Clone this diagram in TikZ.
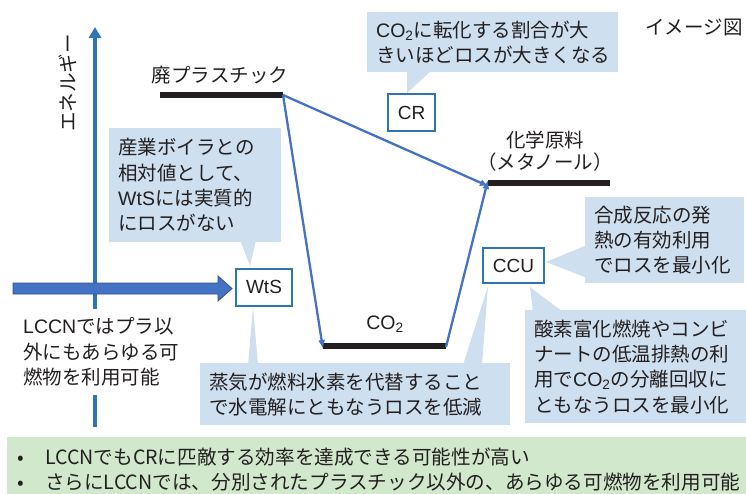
\documentclass[tikz,border=0pt]{standalone}
\usepackage{fontspec}
\setmainfont{Noto Sans CJK JP}
\newfontfamily\arf{Liberation Sans}
\usetikzlibrary{arrows.meta}
\definecolor{cbl}{RGB}{206,223,239}
\definecolor{grn}{RGB}{209,232,205}
\definecolor{axb}{RGB}{46,117,182}
\definecolor{arb}{RGB}{68,114,196}
\definecolor{ard}{RGB}{47,82,143}
\definecolor{txt}{RGB}{35,31,32}
\newcommand{\jpf}{\fontsize{19.5}{25.3}\selectfont}
\newcommand{\cotwo}{{\arf CO\textsubscript{2}}}
\begin{document}
\begin{tikzpicture}[x=1pt,y=-1pt,
  callout/.style={fill=cbl, draw=none, inner xsep=9pt, inner ysep=0pt, align=left, anchor=north west, font=\jpf, text=txt},
  tail/.style={fill=cbl, draw=none},
  tagbox/.style={draw=axb, line width=2pt, fill=white, font=\arf\fontsize{19}{22}\selectfont, text=txt, inner sep=0pt},
  level/.style={draw=txt, line width=6pt},
  flow/.style={draw=arb, line width=2.3pt, -{Latex[length=9pt,width=7pt]}},
  lbl/.style={font=\jpf, text=txt, inner sep=0pt, align=center}]
\useasboundingbox (0,0) rectangle (746,493);
% axis
\coordinate (axb) at (95,427);
\coordinate (axt) at (95,27);
\draw[axb, line width=3.5pt, -{Triangle[length=11pt,width=12pt]}] (axb) -- (axt);
\node[lbl, rotate=90] (energy) at (68,83) {エネルギー};
\node[lbl] (image) at (694,28) {イメージ図};
% callouts
\fill[tail] (240,240) -- (250,266) -- (256,240) -- cycle;
\fill[tail] (248,365) -- (253,307) -- (258,365) -- cycle;
\fill[tail] (463,365) -- (488,286) -- (482,365) -- cycle;
\fill[tail] (407,70) -- (407,93) -- (432,70) -- cycle;
\fill[tail] (587,245) -- (546,262) -- (587,278) -- cycle;
\fill[tail] (533,312) -- (530,287) -- (563,312) -- cycle;
\node[callout, text width=154pt, minimum height=114pt] (c1) at (109,128)
  {産業ボイラとの\\相対値として、\\{\arf WtS}には実質的\\にロスがない};
\node[callout, text width=292pt, minimum height=62pt] (c2) at (200,363)
  {蒸気が燃料水素を代替すること\\で水電解にともなうロスを低減};
\node[callout, text width=233pt, minimum height=60pt] (c3) at (367,12)
  {\cotwo に転化する割合が大\\きいほどロスが大きくなる};
\node[callout, text width=141pt, minimum height=86pt] (c4) at (585,197)
  {合成反応の発\\熱の有効利用\\でロスを最小化};
\node[callout, text width=203pt, minimum height=113pt] (c5) at (525,310)
  {酸素富化燃焼やコンビ\\ナートの低温排熱の利\\用で\cotwo の分離回収に\\ともなうロスを最小化};
% LCCN text over axis
\node[fill=white, inner xsep=3pt, inner ysep=9pt, anchor=west, align=left, font=\jpf, text=txt] (lccn) at (20,352)
  {{\arf LCCN}ではプラ以\\外にもあらゆる可\\燃物を利用可能};
% tags
\node[tagbox, minimum width=56pt, minimum height=37pt] (wts) at (264,287) {WtS};
\node[tagbox, minimum width=47pt, minimum height=37pt] (cr) at (411.5,112.5) {CR};
\node[tagbox, minimum width=61pt, minimum height=35pt] (ccu) at (513.5,265.5) {CCU};
% big arrow into WtS
\filldraw[fill=arb, draw=ard, line width=0.8pt]
  (13,283) -- (218,283) -- (218,276) -- (232,288.5) -- (218,301) -- (218,294) -- (13,294) -- cycle;
% levels
\coordinate (pl) at (160,95);  \coordinate (pr) at (283,95);
\coordinate (ml) at (488,183); \coordinate (mr) at (610,183);
\coordinate (ol) at (323,346); \coordinate (or) at (446,346);
\draw[level] (pl) -- (pr);
\draw[level] (ml) -- (mr);
\draw[level] (ol) -- (or);
\node[lbl] (plastic) at (220,75) {廃プラスチック};
\node[lbl] (chem) at (545,140) {化学原料};
\node[lbl] (meoh) at (545,162) {（メタノール）};
\node[lbl] (co2) at (385,324) {\cotwo};
% flows
\draw[flow, shorten >=-1pt] (pr) -- ([yshift=-3pt]ml);
\draw[flow] (pr) -- ([yshift=-3pt]ol);
\draw[flow] ([yshift=-1pt]or) -- ([yshift=3pt]ml);
% bottom note
\node[fill=grn, anchor=north west, minimum width=740pt, minimum height=57pt, inner sep=0pt] (note) at (7,437) {};
\node[anchor=west, align=left, inner sep=0pt, font=\fontsize{19.6}{25}\selectfont, text=txt] (notetext) at (17,469.5)
  {\makebox[28pt][l]{•}LCCNでもCRに匹敵する効率を達成できる可能性が高い\\
   \makebox[28pt][l]{•}さらにLCCNでは、分別されたプラスチック以外の、あらゆる可燃物を利用可能};
\end{tikzpicture}
\end{document}
